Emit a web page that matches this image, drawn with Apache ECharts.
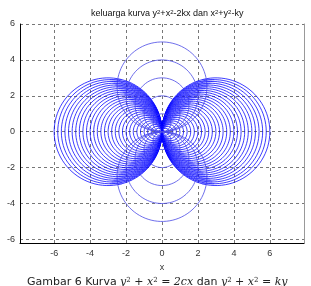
<!DOCTYPE html>
<html><head><meta charset="utf-8">
<script src="https://cdn.jsdelivr.net/npm/echarts@6/dist/echarts.min.js"></script>
<style>html,body{margin:0;padding:0;background:#fff}#c{width:311px;height:286px}</style>
</head><body><div id="c"></div>
<script>
// tick labels
const xTicks = [-6, -4, -2, 0, 2, 4, 6];
const yTicks = [-6, -4, -2, 0, 2, 4, 6];
// parameter c of x^2+y^2=2cx (both signs drawn)
const cValues = [0.1,0.2,0.3,0.4,0.5,0.6,0.7,0.8,0.9,1.0,1.1,1.2,1.3,1.4,1.5,1.6,1.7,1.8,1.9,2.0,2.1,2.2,2.3,2.4,2.5,2.6,2.7,2.8,2.9,3.0];
// parameter k of x^2+y^2=ky (both signs drawn)
const kValues = [1, 2, 3, 4, 5];
// y levels of the hatching rows connecting the c-curves
const hatchY = [0.1,0.2,0.3,0.4,0.5,0.6,0.7,0.8,0.9,1.0,1.1,1.2,1.3,1.4,1.5,1.6,1.7,1.8,1.9,2.0,2.1,2.2,2.3,2.4,2.5,2.6,2.7,2.8,2.9];

function circle(cx, cy, r) {
  const pts = [];
  for (let i = 0; i <= 180; i++) {
    const t = i / 180 * 2 * Math.PI;
    pts.push([cx + r * Math.cos(t), cy + r * Math.sin(t)]);
  }
  return pts;
}
const series = [];
const blue = '#0000ff';
cValues.forEach(c => {
  [c, -c].forEach(cc => {
    series.push({type:'line', showSymbol:false, silent:true, data:circle(cc, 0, Math.abs(cc)),
      lineStyle:{color:blue, width:0.9, opacity:0.85}});
  });
});
kValues.forEach(k => {
  [k, -k].forEach(kk => {
    series.push({type:'line', showSymbol:false, silent:true, data:circle(0, kk/2, Math.abs(kk)/2),
      lineStyle:{color:'#4a4ae6', width:0.8}});
  });
});
// hatching: rows joining the inner-branch points of the c-curves at the same y
hatchY.forEach(y => {
  [1, -1].forEach(sx => {
    [1, -1].forEach(sy => {
      const pts = [];
      cValues.filter(c => c >= y).forEach(c => {
        pts.push([sx * (c - Math.sqrt(c * c - y * y)), sy * y]);
      });
      if (pts.length > 1) series.push({type:'line', showSymbol:false, silent:true, data:pts,
        lineStyle:{color:'#2a2aff', width:0.7}});
    });
  });
});

const chart = echarts.init(document.getElementById('c'), null, {renderer:'canvas'});
const lbl = {fontFamily:'Liberation Sans, Arial, sans-serif', fontSize:9, color:'#333'};
const gridLine = {show:true, lineStyle:{color:'#777', type:[3,3], width:1}};
chart.setOption({
  animation:false,
  backgroundColor:'#fff',
  grid:{left:20, right:7, top:24, bottom:43, containLabel:false, outerBoundsMode:'none'},
  title:{
    text:'keluarga kurva y{s|2}+x{s|2}-2kx dan x{s|2}+y{s|2}-ky',
    left:86, top:4,
    textStyle:{fontFamily:'Liberation Sans, Arial, sans-serif', fontSize:9, fontWeight:'normal', color:'#111',
      rich:{s:{fontSize:6, verticalAlign:'top', fontFamily:'Liberation Sans, Arial, sans-serif', color:'#111'}}}
  },
  xAxis:[{
    type:'value', min:-7.9, max:7.9,
    name:'x', nameLocation:'middle', nameGap:18, nameTextStyle:lbl,
    axisLine:{show:true, onZero:false, lineStyle:{color:'#000', width:1}},
    axisTick:{show:false, customValues:xTicks},
    axisLabel:Object.assign({customValues:xTicks, margin:6}, lbl),
    splitLine:gridLine
  }],
  yAxis:[{
    type:'value', min:-6.2, max:6,
    name:'y', nameLocation:'middle', nameGap:13, nameTextStyle:Object.assign({}, lbl, {fontSize:7}),
    axisLine:{show:true, onZero:false, lineStyle:{color:'#000', width:1}},
    axisTick:{show:false, customValues:yTicks},
    axisLabel:Object.assign({customValues:yTicks, margin:5}, lbl),
    splitLine:gridLine
  },{
    type:'value', min:-6.2, max:6, position:'right',
    axisLine:{show:true, onZero:false, lineStyle:{color:'#999', width:1}},
    axisTick:{show:false}, axisLabel:{show:false}, splitLine:{show:false}
  }],
  series:series,
  graphic:[{
    type:'text', left:27, top:277,
    style:{
      text:'Gambar 6 Kurva {m|y}{s|2}{m| + x}{s|2}{m| = 2cx} dan {m|y}{s|2}{m| + x}{s|2}{m| = ky}',
      font:'11px "DejaVu Sans", sans-serif', fill:'#222',
      rich:{
        m:{fontFamily:'DejaVu Serif, serif', fontStyle:'italic', fontSize:11, fill:'#222'},
        s:{fontFamily:'DejaVu Serif, serif', fontSize:7, verticalAlign:'top', fill:'#222'}
      }
    }
  }]
});
</script></body></html>
